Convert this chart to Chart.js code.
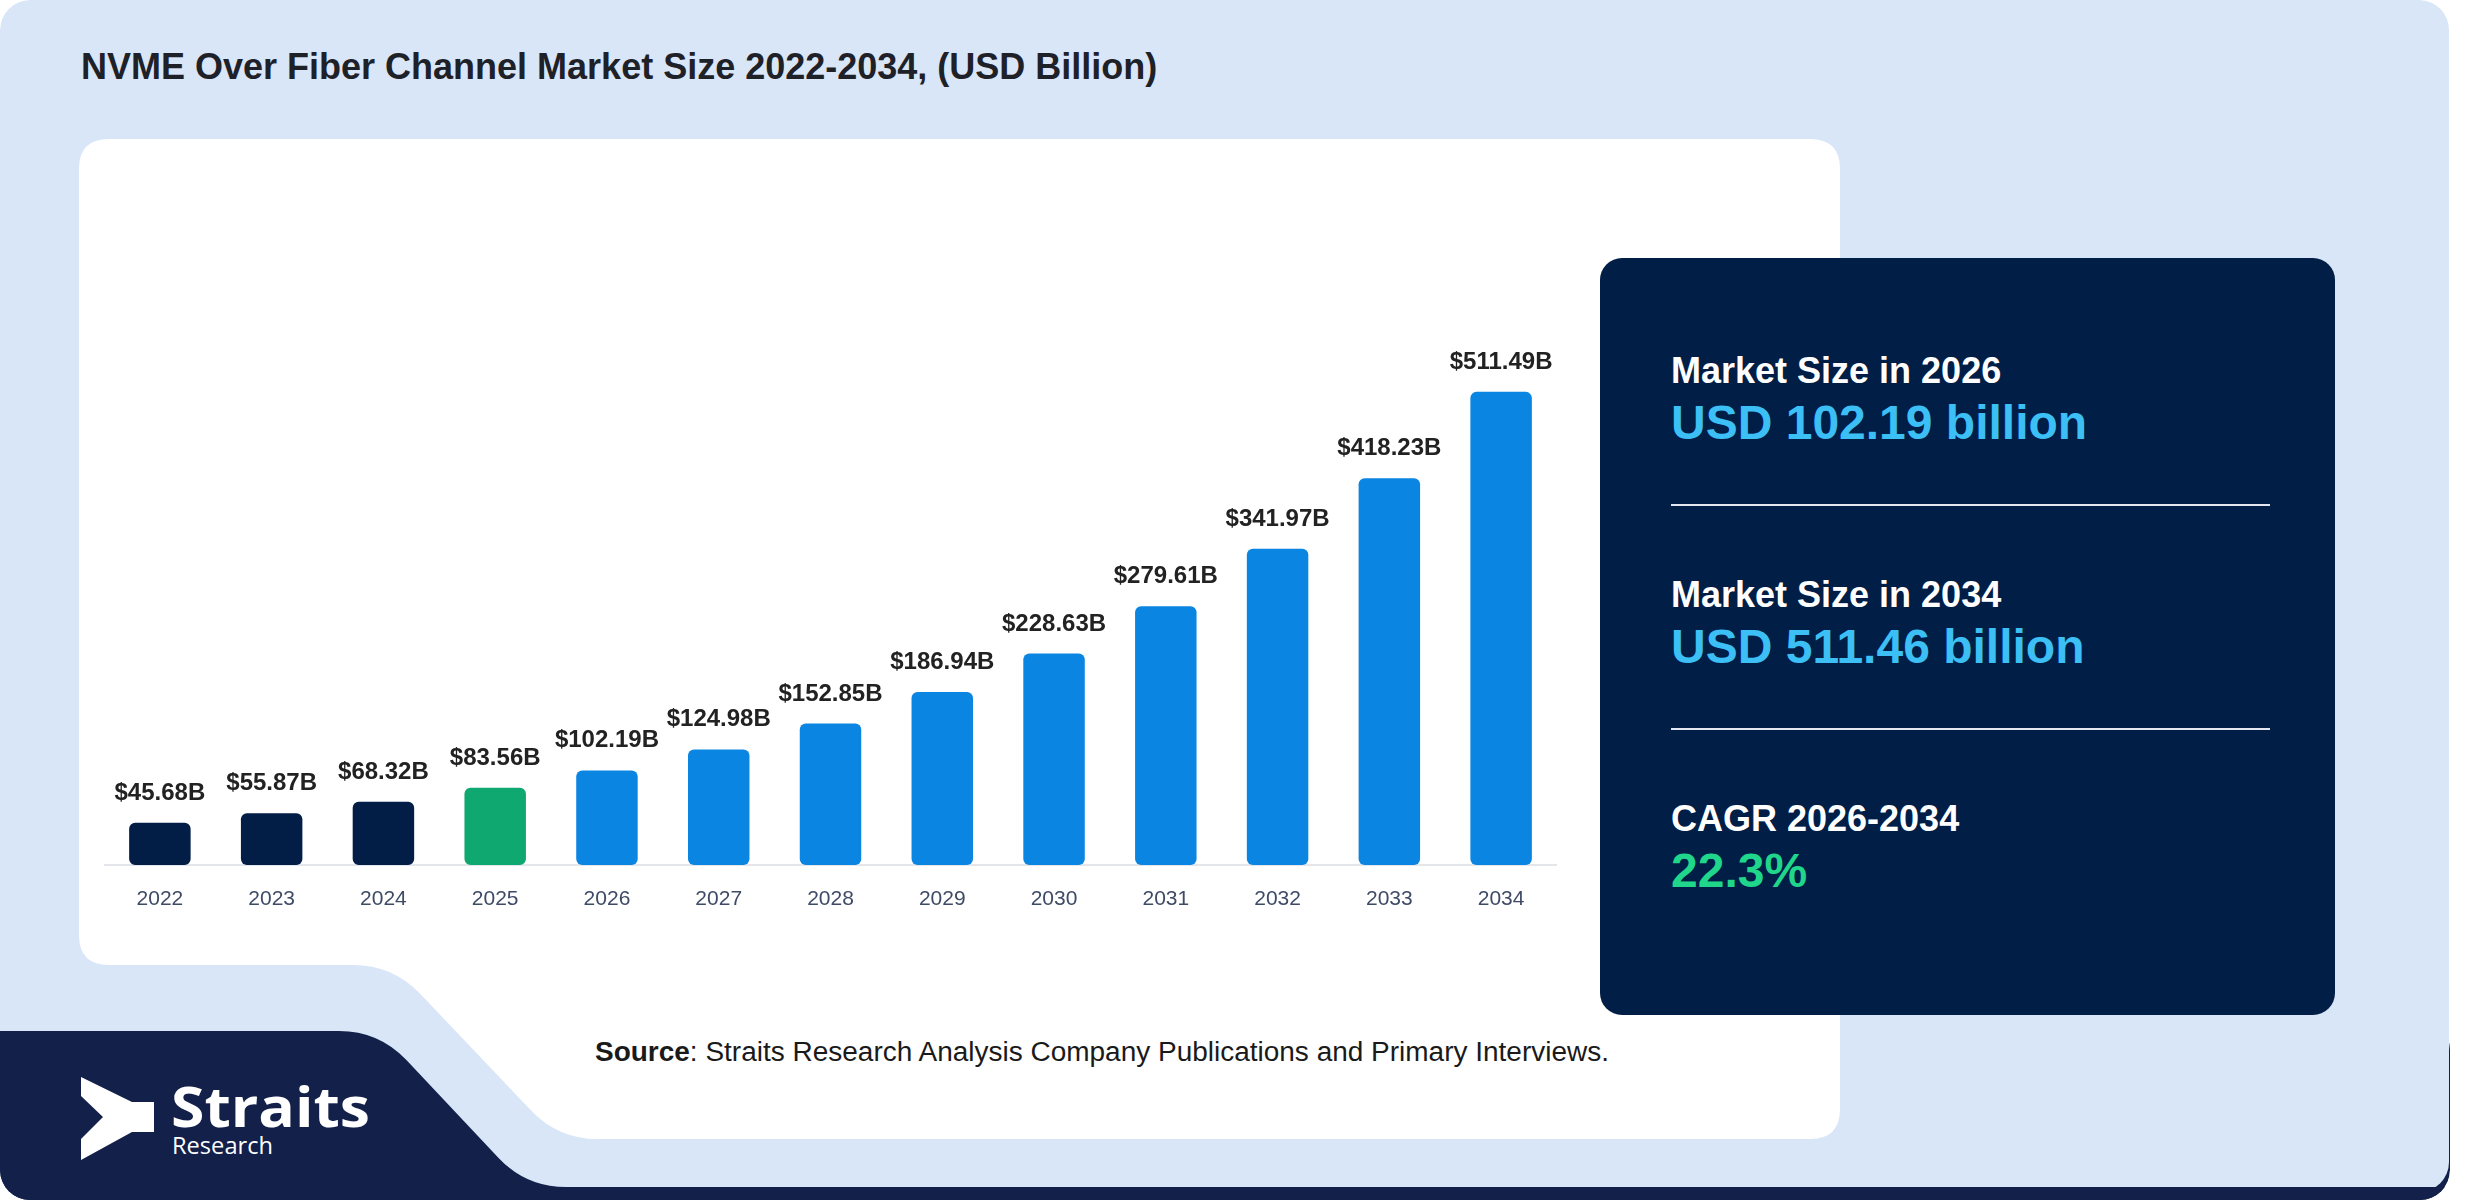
<!DOCTYPE html>
<html>
<head>
<meta charset="utf-8">
<script src="https://cdn.jsdelivr.net/npm/chart.js@4.4.1/dist/chart.umd.min.js"></script>
<style>
  html, body { margin: 0; padding: 0; background: #ffffff; }
  #wrap { position: relative; width: 2480px; height: 1200px; overflow: hidden; }
  #bg { position: absolute; left: 0; top: 0; }
  #chartBox { position: absolute; left: 104px; top: 280px; width: 1453px; height: 660px; }
  text { font-family: "Liberation Sans", Arial, sans-serif; }
</style>
</head>
<body>
<div id="wrap">
  <svg id="bg" width="2480" height="1200" viewBox="0 0 2480 1200">
    <defs>
      <clipPath id="outer"><rect x="0" y="0" width="2450" height="1200" rx="30" ry="30"/></clipPath>
    </defs>
    <g clip-path="url(#outer)">
      <rect x="0" y="1020" width="2450" height="180" rx="30" fill="#12204a"/>
      <rect x="0" y="0" width="2449" height="1192" rx="30" fill="#d9e6f8"/>
      <!-- white chart card with the cut corner -->
      <path fill="#ffffff" d="M109 139 H1810 Q1840 139 1840 169 V1109 Q1840 1139 1810 1139 H598
        Q558 1139 530.6 1109.9 L420.4 994.1 Q393 965 353 965 H109 Q79 965 79 935 V169 Q79 139 109 139 Z"/>
      <!-- logo band -->
      <path fill="#12204a" d="M0 1031 H339 Q379 1031 406.4 1060.1 L498.6 1157.9 Q526 1187 566 1187 H2480 V1200 H0 Z"/>
    </g>
    <!-- logo -->
    <path fill="#ffffff" d="M81 1077 L132 1102 H154 V1132 H132 L81 1160 V1139 L103 1117 L81 1096 Z"/>
    <text x="171" y="1127" fill="#ffffff" font-size="56" font-weight="700"
          style="font-family:'Open Sans','Noto Sans',sans-serif" textLength="199" lengthAdjust="spacingAndGlyphs">Straits</text>
    <text x="172" y="1154" fill="#ffffff" font-size="24"
          style="font-family:'Open Sans','Noto Sans',sans-serif" textLength="101" lengthAdjust="spacingAndGlyphs">Research</text>

    <text id="title" x="81" y="79" fill="#1e2127" font-size="36" font-weight="700"></text>
    <text id="source" x="595" y="1061" fill="#1a1a1a" font-size="27" textLength="1014" lengthAdjust="spacingAndGlyphs"></text>

    <!-- summary panel -->
    <rect x="1600" y="258" width="735" height="757" rx="22" fill="#011e47"/>
    <g id="panel"></g>
  </svg>
  <div id="chartBox"><canvas id="myChart" width="1453" height="660"></canvas></div>
</div>
<script>
const chartTitle = 'NVME Over Fiber Channel Market Size 2022-2034, (USD Billion)';
const sourceNote = 'Straits Research Analysis Company Publications and Primary Interviews.';

const years = ['2022', '2023', '2024', '2025', '2026', '2027', '2028', '2029', '2030', '2031', '2032', '2033', '2034'];
const marketSize = [45.68, 55.87, 68.32, 83.56, 102.19, 124.98, 152.85, 186.94, 228.63, 279.61, 341.97, 418.23, 511.49];

const baseYear = '2025';
const panelHeads = ['Market Size in 2026', 'Market Size in 2034', 'CAGR 2026-2034'];
const panelValues = ['USD 102.19 billion', 'USD 511.46 billion', '22.3%'];

const SVGNS = 'http://www.w3.org/2000/svg';
function svgEl(tag, attrs, txt) {
  const el = document.createElementNS(SVGNS, tag);
  for (const k in attrs) el.setAttribute(k, attrs[k]);
  if (txt != null) el.textContent = txt;
  return el;
}

document.getElementById('title').textContent = chartTitle;
const src = document.getElementById('source');
src.appendChild(svgEl('tspan', { 'font-weight': 700 }, 'Source'));
src.appendChild(svgEl('tspan', {}, ': ' + sourceNote));

// right hand summary panel
const panel = document.getElementById('panel');
panelHeads.forEach((h, i) => {
  const y0 = 383 + i * 224;
  panel.appendChild(svgEl('text', { x: 1671, y: y0, fill: '#ffffff', 'font-size': 36, 'font-weight': 700 }, h));
  panel.appendChild(svgEl('text', {
    x: 1671, y: y0 + 56, 'font-size': 48, 'font-weight': 700,
    fill: i === 2 ? '#1fd68b' : '#3cbff5'
  }, panelValues[i]));
  if (i < panelHeads.length - 1) {
    panel.appendChild(svgEl('line', { x1: 1671, x2: 2270, y1: y0 + 122, y2: y0 + 122, stroke: '#e4e8ee', 'stroke-width': 2 }));
  }
});

function barColor(y) {
  if (y < baseYear) return '#021e47';
  if (y === baseYear) return '#10a871';
  return '#0b85e2';
}

const valueLabels = {
  id: 'valueLabels',
  afterDatasetsDraw(chart) {
    const ctx = chart.ctx;
    const meta = chart.getDatasetMeta(0);
    ctx.save();
    ctx.font = 'bold 24px "Liberation Sans", Arial, sans-serif';
    ctx.fillStyle = '#222222';
    ctx.textAlign = 'center';
    ctx.textBaseline = 'alphabetic';
    meta.data.forEach((bar, i) => {
      ctx.fillText('$' + marketSize[i].toFixed(2) + 'B', bar.x, bar.y - 23);
    });
    ctx.restore();
  }
};

const ctx = document.getElementById('myChart').getContext('2d');
new Chart(ctx, {
  type: 'bar',
  data: {
    labels: years,
    datasets: [{
      data: marketSize,
      backgroundColor: years.map(barColor),
      borderRadius: 6,
      borderSkipped: false,
      barPercentage: 0.55,
      categoryPercentage: 1
    }]
  },
  options: {
    responsive: false,
    devicePixelRatio: 1,
    animation: false,
    layout: { padding: { top: 30, left: 0, right: 0, bottom: 0 } },
    plugins: {
      legend: { display: false },
      tooltip: { enabled: false }
    },
    scales: {
      x: {
        grid: { display: false, drawTicks: false },
        border: { display: true, color: '#e3e6ea', width: 2 },
        ticks: {
          color: '#3e4a66',
          padding: 22,
          font: { family: '"Liberation Sans", Arial, sans-serif', size: 21 }
        },
        afterFit: s => { s.height = 75; }
      },
      y: {
        display: false,
        min: 0,
        max: 600
      }
    }
  },
  plugins: [valueLabels]
});
</script>
</body>
</html>
